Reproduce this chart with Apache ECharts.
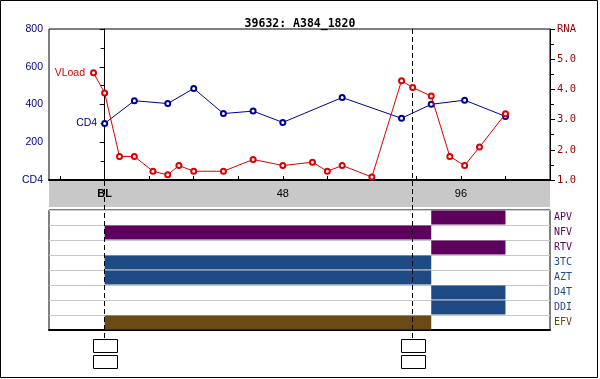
<!DOCTYPE html>
<html>
<head>
<meta charset="utf-8">
<script src="https://cdn.jsdelivr.net/npm/echarts@6/dist/echarts.min.js"></script>
<style>html,body{margin:0;padding:0;background:#fff}#c{width:600px;height:379px}</style>
</head>
<body>
<div id="c"></div>
<script>
// ---- data ----
var titleText = '39632: A384_1820';
var cd4Weeks  = [0, 8, 17, 24, 32, 40, 48, 64, 80, 88, 97, 108];
var cd4Values = [300, 420, 405, 485, 352, 365, 305, 437, 327, 401, 423, 337];
var vlWeeks  = [-3, 0, 4, 8, 13, 17, 20, 24, 32, 40, 48, 56, 60, 64, 72, 80, 83, 88, 93, 97, 101, 108];
var vlValues = [4.55, 3.88, 1.78, 1.78, 1.29, 1.17, 1.48, 1.29, 1.29, 1.68, 1.48, 1.59, 1.29, 1.48, 1.10, 4.29, 4.06, 3.78, 1.78, 1.48, 2.09, 3.19];
var xTickWeeks = [-12, 0, 12, 24, 36, 48, 60, 72, 84, 96, 108];
var xLabelWeeks = [0, 48, 96];
var eventWeeks = [0, 83];
var drugs      = ['APV', 'NFV', 'RTV', '3TC', 'AZT', 'D4T', 'DDI', 'EFV'];
var drugClass  = ['PI', 'PI', 'PI', 'NRTI', 'NRTI', 'NRTI', 'NRTI', 'NNRTI'];
var drugStart  = [88, 0, 88, 0, 0, 88, 88, 0];
var drugEnd    = [108, 88, 108, 88, 88, 108, 108, 88];

// ---- styles ----
var classColor = { PI: '#5e005e', NRTI: '#1f4b84', NNRTI: '#6b4a16' };
var navy = '#000080', dred = '#990000';
var XMIN = -15, XMAX = 120;

var cd4Data = cd4Weeks.map(function (w, i) { return [w, cd4Values[i]]; });
var vlData = vlWeeks.map(function (w, i) { return [w, vlValues[i]]; });
var drugData = drugs.map(function (d, i) { return [drugStart[i], drugEnd[i], i]; });

var chart = echarts.init(document.getElementById('c'));
chart.setOption({
  animation: false,
  backgroundColor: '#fff',
  title: {
    text: titleText, left: 'center', top: 13,
    textStyle: { fontFamily: 'DejaVu Sans Mono', fontWeight: 'bold', fontSize: 11.5, color: '#000' }
  },
  graphic: [
    { type: 'rect', z: -10, shape: { x: 0.5, y: 0.5, width: 597, height: 377 }, style: { fill: '#fff', stroke: '#000', lineWidth: 1 } },
    { type: 'rect', z: -5, shape: { x: 49, y: 181, width: 501, height: 26 }, style: { fill: '#c8c8c8' } }
  ],
  grid: [
    { left: 49, right: 50, top: 29, height: 151, show: true, borderColor: '#000', borderWidth: 1, backgroundColor: 'transparent' },
    { left: 49, right: 50, top: 210, height: 120, show: true, borderColor: '#000', borderWidth: 1, backgroundColor: 'transparent' },
    { left: 49, right: 50, top: 29, height: 340 }
  ],
  xAxis: [
    {
      gridIndex: 0, type: 'value', min: XMIN, max: XMAX,
      axisLine: { show: true, lineStyle: { color: '#000', width: 2 } },
      axisTick: { show: true, inside: true, length: 4, customValues: xTickWeeks, lineStyle: { color: '#000' } },
      axisLabel: {
        customValues: xLabelWeeks, margin: 8, fontSize: 11, color: '#000', fontFamily: 'Liberation Sans',
        formatter: function (v) { return v === 0 ? '{b|BL}' : String(v); },
        rich: { b: { fontWeight: 'bold', fontSize: 11, fontFamily: 'Liberation Sans', color: '#000' } }
      },
      splitLine: { show: false }
    },
    {
      gridIndex: 1, type: 'value', min: XMIN, max: XMAX,
      axisLine: { show: true, lineStyle: { color: '#000', width: 2 } },
      axisTick: { show: false }, minorTick: { show: false }, axisLabel: { show: false }, splitLine: { show: false }
    },
    {
      gridIndex: 2, type: 'value', min: XMIN, max: XMAX, show: false
    }
  ],
  yAxis: [
    {
      gridIndex: 0, type: 'value', min: 0, max: 800, interval: 200,
      axisLine: { show: true, lineStyle: { color: '#000' } },
      axisTick: { show: true, length: 5, lineStyle: { color: '#000' } },
      minorTick: { show: true, splitNumber: 2, length: 4, lineStyle: { color: '#000' } },
      axisLabel: {
        color: navy, fontSize: 10.5, fontFamily: 'Liberation Sans', margin: 6,
        formatter: function (v) { return v === 0 ? 'CD4' : String(v); }
      },
      splitLine: { show: false }
    },
    {
      gridIndex: 0, type: 'value', min: 1, max: 6, interval: 1, position: 'right',
      axisLine: { show: true, lineStyle: { color: '#000' } },
      axisTick: { show: true, length: 5, lineStyle: { color: '#000' } },
      minorTick: { show: true, splitNumber: 2, length: 4, lineStyle: { color: '#000' } },
      axisLabel: {
        color: dred, fontSize: 10.5, fontFamily: 'DejaVu Sans Mono', margin: 7,
        formatter: function (v) { return v === 6 ? 'RNA' : v.toFixed(1); }
      },
      splitLine: { show: false }
    },
    {
      gridIndex: 1, type: 'category', data: drugs, inverse: true, position: 'right',
      axisLine: { show: false }, axisTick: { show: false },
      axisLabel: {
        margin: 4, fontSize: 10, fontFamily: 'DejaVu Sans Mono',
        color: function (v) { return classColor[drugClass[drugs.indexOf(v)]]; }
      },
      splitLine: { show: true, lineStyle: { color: '#c8c8c8', width: 1 } }
    },
    {
      gridIndex: 2, type: 'value', min: 0, max: 340, inverse: true, show: false
    }
  ],
  series: [
    {
      type: 'line', name: 'overlay', xAxisIndex: 2, yAxisIndex: 3, data: [], z: 1, silent: true,
      markLine: {
        symbol: 'none', silent: true, label: { show: false },
        lineStyle: { color: '#000', type: [5, 3], width: 1 },
        data: eventWeeks.map(function (w) { return [{ coord: [w, 0] }, { coord: [w, 310] }]; })
      }
    },
    {
      type: 'custom', xAxisIndex: 2, yAxisIndex: 3, z: 4, silent: true,
      data: eventWeeks.map(function (w) { return [w]; }),
      renderItem: function (params, api) {
        var p = api.coord([api.value(0), 310]);
        var x = Math.round(p[0]) - 12 + 0.5;
        var y = Math.round(p[1]) + 0.5;
        return {
          type: 'group', children: [
            { type: 'rect', shape: { x: x, y: y, width: 24, height: 13 }, style: { fill: '#fff', stroke: '#000', lineWidth: 1 } },
            { type: 'rect', shape: { x: x, y: y + 16, width: 24, height: 13 }, style: { fill: '#fff', stroke: '#000', lineWidth: 1 } }
          ]
        };
      }
    },
    {
      type: 'custom', xAxisIndex: 1, yAxisIndex: 2, z: 3, silent: true,
      data: drugData,
      encode: { x: [0, 1], y: 2 },
      renderItem: function (params, api) {
        var idx = api.value(2);
        var a = api.coord([api.value(0), idx]);
        var b = api.coord([api.value(1), idx]);
        var h = api.size([0, 1])[1];
        return {
          type: 'rect',
          shape: { x: a[0], y: a[1] - h / 2 + 0.5, width: b[0] - a[0], height: h - 1 },
          style: { fill: classColor[drugClass[idx]] }
        };
      }
    },
    {
      type: 'line', name: 'CD4', xAxisIndex: 0, yAxisIndex: 0, data: cd4Data, z: 5,
      symbol: 'emptyCircle', symbolSize: 5,
      lineStyle: { color: '#000099', width: 1 },
      itemStyle: { color: '#000099', borderWidth: 1 },
      label: {
        show: true, position: 'left', distance: 4, fontSize: 10.5, fontFamily: 'Liberation Sans', color: navy,
        formatter: function (p) { return p.dataIndex === 0 ? 'CD4' : ''; }
      }
    },
    {
      type: 'line', name: 'VLoad', xAxisIndex: 0, yAxisIndex: 1, data: vlData, z: 6,
      symbol: 'emptyCircle', symbolSize: 5,
      lineStyle: { color: '#dd0000', width: 1 },
      itemStyle: { color: '#dd0000', borderWidth: 1 },
      label: {
        show: true, position: 'left', distance: 5, fontSize: 10.5, fontFamily: 'Liberation Sans', color: '#dd0000',
        formatter: function (p) { return p.dataIndex === 0 ? 'VLoad' : ''; }
      }
    }
  ]
});
</script>
</body>
</html>
